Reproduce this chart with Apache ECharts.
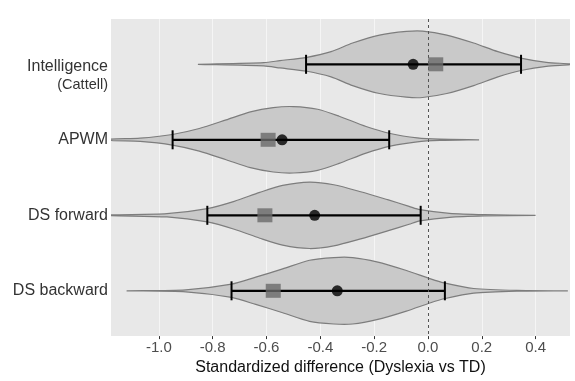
<!DOCTYPE html>
<html><head><meta charset="utf-8">
<script src="https://cdn.jsdelivr.net/npm/echarts@6/dist/echarts.min.js"></script>
<style>html,body{margin:0;padding:0;background:#fff}#c{width:575px;height:381px}</style>
</head><body><div id="c"></div>
<script>
// ---- data ----
const categories = ['Intelligence', 'APWM', 'DS forward', 'DS backward'];
const subLabels = ['(Cattell)', '', '', ''];
const xTicks = [-1.0, -0.8, -0.6, -0.4, -0.2, 0.0, 0.2, 0.4];
const xTitle = 'Standardized difference (Dyslexia vs TD)';

const ciLow  = [-0.453, -0.949, -0.820, -0.730];
const ciHigh = [ 0.346, -0.144, -0.027,  0.063];
const dotVal = [-0.055, -0.542, -0.421, -0.337];
const squareVal = [0.029, -0.594, -0.606, -0.575];

// violin outlines: x positions and relative density (half-width)
const violinIntelX = [-0.855, -0.61, -0.55, -0.45, -0.36, -0.28, -0.18, -0.08, -0.02, 0.07, 0.17, 0.26, 0.35, 0.44, 0.53];
const violinIntelD = [0, 0.05, 0.11, 0.21, 0.38, 0.64, 0.88, 0.99, 1.0, 0.88, 0.64, 0.38, 0.18, 0.06, 0.01];
const violinApwmX = [-1.18, -1.07, -0.95, -0.85, -0.75, -0.66, -0.575, -0.50, -0.41, -0.33, -0.23, -0.14, -0.04, 0.045, 0.19];
const violinApwmD = [0.02, 0.05, 0.16, 0.34, 0.60, 0.84, 0.97, 1.0, 0.92, 0.71, 0.40, 0.19, 0.06, 0.02, 0];
const violinFwdX = [-1.18, -0.97, -0.82, -0.72, -0.625, -0.54, -0.44, -0.35, -0.25, -0.15, -0.07, -0.03, 0.08, 0.21, 0.40];
const violinFwdD = [0.01, 0.05, 0.20, 0.42, 0.69, 0.90, 1.0, 0.92, 0.71, 0.47, 0.27, 0.17, 0.06, 0.02, 0];
const violinBwdX = [-1.12, -0.90, -0.73, -0.64, -0.54, -0.44, -0.35, -0.28, -0.19, -0.08, 0.01, 0.06, 0.17, 0.33, 0.52];
const violinBwdD = [0, 0.03, 0.20, 0.41, 0.66, 0.92, 1.0, 1.0, 0.87, 0.61, 0.36, 0.24, 0.07, 0.01, 0];

const violinX = [violinIntelX, violinApwmX, violinFwdX, violinBwdX];
const violinD = [violinIntelD, violinApwmD, violinFwdD, violinBwdD];

// ---- styling ----
const HALF = 0.44;   // max violin half width in category units
const FONT = 'Liberation Sans, Arial, sans-serif';

const chart = echarts.init(document.getElementById('c'), null, {renderer: 'canvas'});

const option = {
  animation: false,
  backgroundColor: '#ffffff',
  grid: {left: 111, right: 5, top: 19, bottom: 44, show: true, backgroundColor: '#e8e8e8', borderWidth: 0},
  xAxis: {
    type: 'value', min: -1.178, max: 0.528,
    axisLine: {show: false},
    axisTick: {show: true, customValues: xTicks, length: 3, lineStyle: {color: '#333', width: 1}},
    splitLine: {show: true, lineStyle: {color: 'rgba(255,255,255,0.55)', width: 1}},
    axisLabel: {customValues: xTicks, formatter: v => v.toFixed(1), fontSize: 15, color: '#4d4d4d', fontFamily: FONT, margin: 4},
    name: xTitle, nameLocation: 'middle', nameGap: 20,
    nameTextStyle: {fontSize: 16, color: '#111', fontFamily: FONT}
  },
  yAxis: {
    type: 'value', inverse: true, min: 0.4, max: 4.6,
    axisLine: {show: false}, axisTick: {show: false}, splitLine: {show: false},
    axisLabel: {
      customValues: [1, 2, 3, 4], margin: 3, fontFamily: FONT, fontSize: 16, color: '#333',
      formatter: function (v) {
        const i = Math.round(v) - 1;
        if (subLabels[i]) return '{p| }\n{a|' + categories[i] + '}\n{b|' + subLabels[i] + '}';
        return '{a|' + categories[i] + '}';
      },
      rich: {
        a: {fontSize: 16, lineHeight: 18, color: '#333', fontFamily: FONT, align: 'right'},
        b: {fontSize: 14.5, lineHeight: 18.6, color: '#333', fontFamily: FONT, align: 'right'},
        p: {fontSize: 14, lineHeight: 23.4, align: 'right'}
      }
    }
  },
  series: [
    {
      type: 'custom', name: 'violin', z: 1, clip: true,
      encode: {x: [0, 2], y: 1},
      data: categories.map((c, i) => [violinX[i][0], i + 1, violinX[i][violinX[i].length - 1], i]),
      renderItem: function (params, api) {
        const i = api.value(3);
        const row = api.value(1);
        const xs = violinX[i], ds = violinD[i];
        const top = [], bot = [];
        for (let k = 0; k < xs.length; k++) {
          top.push(api.coord([xs[k], row - ds[k] * HALF]));
          bot.push(api.coord([xs[k], row + ds[k] * HALF]));
        }
        const pts = top.concat(bot.reverse());
        return {type: 'polygon', shape: {points: pts, smooth: 0.25},
          style: {fill: '#c9c9c9', stroke: '#7d7d7d', lineWidth: 1.2}};
      }
    },
    {
      type: 'line', name: 'zero', z: 2, data: [],
      markLine: {silent: true, symbol: 'none', label: {show: false},
        lineStyle: {type: [3, 3], color: '#555', width: 1},
        data: [{xAxis: 0}]}
    },
    {
      type: 'custom', name: 'ci', z: 3,
      encode: {x: [0, 2], y: 1},
      data: categories.map((c, i) => [ciLow[i], i + 1, ciHigh[i]]),
      renderItem: function (params, api) {
        const a = api.coord([api.value(0), api.value(1)]);
        const b = api.coord([api.value(2), api.value(1)]);
        const st = {stroke: '#000', lineWidth: 2.2};
        return {type: 'group', children: [
          {type: 'line', shape: {x1: a[0], y1: a[1], x2: b[0], y2: b[1]}, style: st},
          {type: 'line', shape: {x1: a[0], y1: a[1] - 9.5, x2: a[0], y2: a[1] + 9.5}, style: {stroke: '#000', lineWidth: 2}},
          {type: 'line', shape: {x1: b[0], y1: b[1] - 9.5, x2: b[0], y2: b[1] + 9.5}, style: {stroke: '#000', lineWidth: 2}}
        ]};
      }
    },
    {
      type: 'scatter', name: 'mean', z: 4, symbol: 'circle', symbolSize: 11,
      itemStyle: {color: '#000'},
      data: categories.map((c, i) => [dotVal[i], i + 1])
    },
    {
      type: 'scatter', name: 'estimate', z: 5, symbol: 'rect', symbolSize: [15, 14],
      itemStyle: {color: '#6a6a6a'},
      data: categories.map((c, i) => [squareVal[i], i + 1])
    }
  ]
};
chart.setOption(option);
</script>
</body></html>
